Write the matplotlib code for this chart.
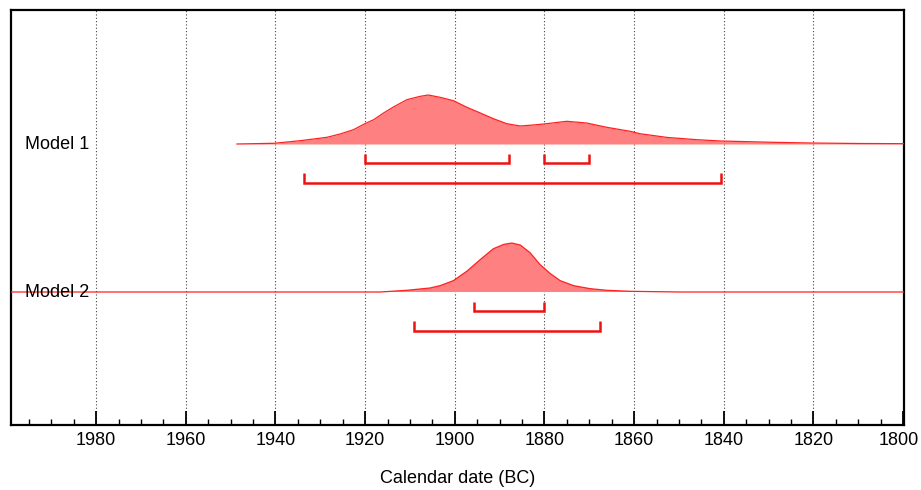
import matplotlib
matplotlib.use("Agg")
import matplotlib.pyplot as plt
import matplotlib.transforms as mtransforms
from matplotlib.ticker import MultipleLocator, FixedLocator
import numpy as np

plt.rcParams['font.family'] = ['Liberation Sans', 'DejaVu Sans']

# ---------------- data ----------------
model_names = ["Model 1", "Model 2"]

m1_years = [1948.6, 1940.3, 1934.5, 1928.5, 1925.6, 1922.6, 1920.2, 1918.1, 1915.9,
            1913.7, 1910.7, 1907.7, 1905.9, 1903.3, 1900.3, 1897.3, 1894.3, 1891.4,
            1888.4, 1885.4, 1882.5, 1880.2, 1875.0, 1870.6, 1866.1, 1860.9, 1858.7,
            1852.7, 1846.0, 1840.6, 1830.0, 1820.7, 1810.0, 1799.0]
m1_prob = [0, 0.7, 3.3, 6.7, 10, 14.3, 20, 24.3, 31,
           37, 44.3, 47.7, 49, 46.7, 43.3, 36.7, 31, 25.3,
           20.3, 18, 19, 20, 22.7, 21, 16.7, 12.7, 10.3,
           6.6, 4.3, 3.0, 1.8, 1.0, 0.5, 0.3]

m2_years = [2010, 1916.6, 1910.7, 1905.5, 1903.3, 1900.3, 1897.3, 1894.3, 1891.4,
            1889.1, 1887.3, 1885.4, 1883.2, 1881.0, 1878.7, 1876.5, 1873.5, 1869.8,
            1866.1, 1860.9, 1850, 1790]
m2_prob = [0, 0, 1.7, 4.0, 6.3, 11.3, 20.7, 32.3, 43,
           47.3, 48.7, 46.7, 39, 27.3, 18.3, 11.3, 6.3, 3.3,
           1.7, 0.7, 0, 0]

# highest posterior density ranges (68.2% and 95.4%)
m1_hpd68 = [(1920.0, 1887.9), (1880.2, 1870.0)]
m1_hpd95 = [(1933.7, 1840.6)]
m2_hpd68 = [(1895.8, 1880.0)]
m2_hpd95 = [(1909.0, 1867.6)]

major_ticks = [1980, 1960, 1940, 1920, 1900, 1880, 1860, 1840, 1820, 1800]
xlabel = "Calendar date (BC)"

# ---------------- figure ----------------
fig = plt.figure(figsize=(9.21, 4.90), dpi=100)
ax = fig.add_axes([11 / 921, 1 - 425 / 490, (904 - 11) / 921, (425 - 10) / 490])

fill_col = "#ff8080"
line_col = "#ff2020"
bracket_col = "#ee1111"

peak_h = 0.331
off68, off95, tick_h = -0.130, -0.262, 0.064

models = [
    (2.0, m1_years, m1_prob, m1_hpd68, m1_hpd95),
    (1.0, m2_years, m2_prob, m2_hpd68, m2_hpd95),
]

for base, yrs, prob, h68, h95 in models:
    yrs = np.asarray(yrs, float)
    p = np.asarray(prob, float)
    top = base + p / p.max() * peak_h
    ax.fill_between(yrs, base, top, color=fill_col, lw=0, zorder=2)
    ax.plot(yrs, top, color=line_col, lw=0.9, zorder=3)
    for off, ranges in ((off68, h68), (off95, h95)):
        y = base + off
        for a, b in ranges:
            ax.plot([a, a, b, b], [y + tick_h, y, y, y + tick_h],
                    color=bracket_col, lw=1.8, solid_joinstyle="miter",
                    solid_capstyle="butt", zorder=3)

trans = mtransforms.blended_transform_factory(ax.transAxes, ax.transData)
for name, (base, *_rest) in zip(model_names, models):
    ax.text((25 - 11) / 893, base, name, transform=trans, ha="left", va="center",
            fontsize=13, color="black", zorder=4)

ax.set_xlim(1999, 1799.8)
ax.set_ylim(0.1014, 2.9054)
ax.set_yticks([])

ax.xaxis.set_major_locator(FixedLocator(major_ticks))
ax.xaxis.set_minor_locator(MultipleLocator(5))
ax.set_xticklabels([str(t) for t in major_ticks])
ax.tick_params(axis="x", which="major", direction="in", length=10, width=1.3,
               labelsize=13, pad=5)
ax.tick_params(axis="x", which="minor", direction="in", length=4.5, width=1.0)

# nudge the last tick label slightly left so it stays inside the figure
last = ax.get_xticklabels()[-1]
last.set_transform(last.get_transform() +
                   mtransforms.ScaledTranslation(-4 / 100, 0, fig.dpi_scale_trans))

for t in major_ticks[:-1]:
    ax.axvline(t, color="#444444", lw=0.8, linestyle=(0, (1, 2)), zorder=1)

for s in ax.spines.values():
    s.set_linewidth(1.6)
    s.set_color("black")

ax.set_xlabel(xlabel, fontsize=13, labelpad=15)

fig.savefig("out.png", dpi=100)
